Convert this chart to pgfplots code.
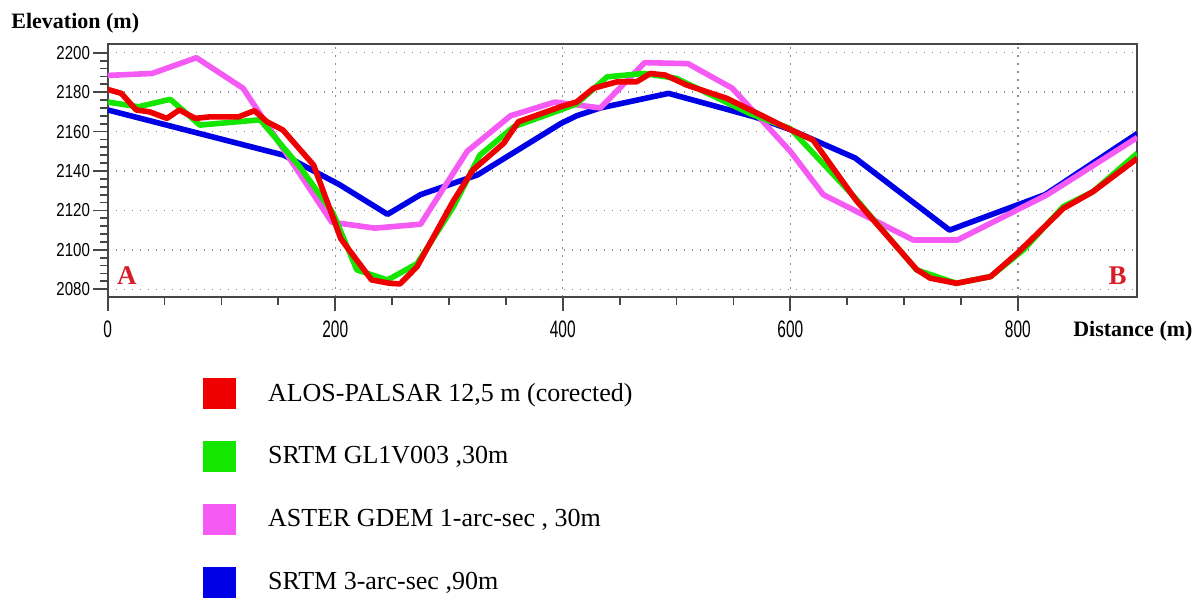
\documentclass[border=0pt]{standalone}
\usepackage{fontspec}
\setmainfont{Liberation Serif}
\newfontfamily\yticknarrow[FakeStretch=0.8]{Liberation Sans}
\newfontfamily\xticknarrow[FakeStretch=0.65]{Liberation Sans}
\usepackage{pgfplots}
\pgfplotsset{compat=1.18}

\definecolor{cRed}{RGB}{238,0,0}
\definecolor{cGreen}{RGB}{20,230,0}
\definecolor{cPink}{RGB}{245,90,245}
\definecolor{cBlue}{RGB}{0,0,230}
\definecolor{cFrame}{RGB}{70,70,70}
\definecolor{cGrid}{RGB}{140,140,140}
\definecolor{cLetter}{RGB}{215,30,40}

% elevation profiles (distance m, elevation m)
\pgfplotstableread{
x y
0 2171
155 2148
204 2133
246 2118
275 2128
325 2138
398 2164
412 2168
433 2172
493 2179.4
569 2167.4
600 2161
657 2146.6
740 2110
824 2128
905 2159
}\srtmninety
\pgfplotstableread{
x y
0 2188.5
39 2189.5
78 2197.5
119 2182
197 2114
235 2111
275 2113
316 2150
354 2168
393 2175
433 2172
472 2195
510 2194.5
549 2182
600 2150
629 2128
708 2105
747 2105
826 2128
905 2157
}\aster
\pgfplotstableread{
x y
0 2175
27 2172.6
55 2176.4
81 2163.3
134 2166
169 2142
198 2118.7
219 2089.8
246 2084.7
272 2093
304 2122
327 2148
357 2162.5
398 2171
412 2174
439 2187.8
471 2189.5
500 2187
565 2169
600 2161.5
656 2127
711 2089.8
746 2083
776 2086.4
805 2100
840 2122
866 2129.5
905 2149
}\srtmthirty
\pgfplotstableread{
x y
0 2181.4
12 2179.4
25 2171
37 2170
52 2166.7
63 2171
77 2166.7
90 2167.5
115 2167.5
129 2170.6
140 2165
154 2160.8
181 2143
205 2105.5
232 2084.7
248 2083
257 2082.7
272 2091.5
304 2125
321 2140.5
348 2154
361 2165
398 2172.6
412 2175
427 2182
448 2185.3
465 2185.3
477 2189.5
490 2188.7
509 2183.6
544 2176.9
565 2171
600 2161
620 2155.7
658 2125
711 2090
723 2085.6
746 2083
776 2086.4
799 2098
840 2121
866 2129.5
905 2146.4
}\alos

\begin{document}
\begin{tikzpicture}
\useasboundingbox (-53.85pt,-152.15pt) rectangle (547.65pt,148.35pt);
\begin{axis}[
    at={(0,0)}, anchor=south west,
    scale only axis,
    width=514.8pt, height=126.2pt,
    xmin=0, xmax=905,
    ymin=2076.2, ymax=2204.3,
    xtick={0,200,...,800},
    ytick={2080,2100,...,2200},
    minor x tick num=3,
    minor y tick num=4,
    tick align=outside,
    xtick pos=bottom, ytick pos=left,
    major tick length=7.2pt,
    minor tick length=4pt,
    every tick/.style={cFrame, line width=0.9pt},
    axis line style={cFrame, line width=1.1pt},
    grid=major,
    major grid style={cGrid, line width=0.7pt, dash pattern=on 0.7pt off 3.3pt},
    yticklabel style={font=\yticknarrow\fontsize{9.4}{11}\selectfont, inner sep=1.5pt},
    xticklabel style={font=\xticknarrow\fontsize{11.9}{13}\selectfont, inner sep=2pt, yshift=-2.5pt},
    /pgf/number format/assume math mode=true,
    /pgf/number format/set thousands separator={},
    xlabel={\textbf{Distance (m)}},
    ylabel={\textbf{Elevation (m)}},
    every axis x label/.style={at={(axis description cs:0.9375,-0.1557)}, anchor=base west, inner sep=0pt, font=\fontsize{11}{13}\selectfont},
    every axis y label/.style={at={(axis description cs:-0.0939,1.0646)}, anchor=base west, inner sep=0pt, font=\fontsize{11}{13}\selectfont},
    legend style={at={(0.0926,-0.3221)}, anchor=north west, draw=none, fill=none,
        inner sep=0pt, outer sep=0pt, row sep=16pt,
        nodes={inner sep=0pt}, font=\fontsize{13}{15}\selectfont},
    legend cell align=left,
    reverse legend,
    legend image code/.code={%
        \fill[draw=none] (0pt,-7.75pt) rectangle (16.5pt,7.75pt);
        \path[draw=none, fill=none] (0pt,0pt) -- (32.5pt,0pt);
    },
    every axis plot/.append style={line width=2.8pt, line join=round},
]
\addplot[cBlue] table {\srtmninety};
\addlegendentry{SRTM 3-arc-sec ,90m}
\addplot[cPink] table {\aster};
\addlegendentry{ASTER GDEM 1-arc-sec , 30m}
\addplot[cGreen] table {\srtmthirty};
\addlegendentry{SRTM GL1V003 ,30m}
\addplot[cRed] table {\alos};
\addlegendentry{ALOS-PALSAR 12,5 m (corected)}

\node[anchor=base west, inner sep=0pt, text=cLetter, font=\bfseries\fontsize{13.5}{15}\selectfont] at (axis cs:8,2082.2) {A};
\node[anchor=base west, inner sep=0pt, text=cLetter, font=\bfseries\fontsize{13.5}{15}\selectfont] at (axis cs:879.4,2082.2) {B};
\end{axis}
\end{tikzpicture}
\end{document}
